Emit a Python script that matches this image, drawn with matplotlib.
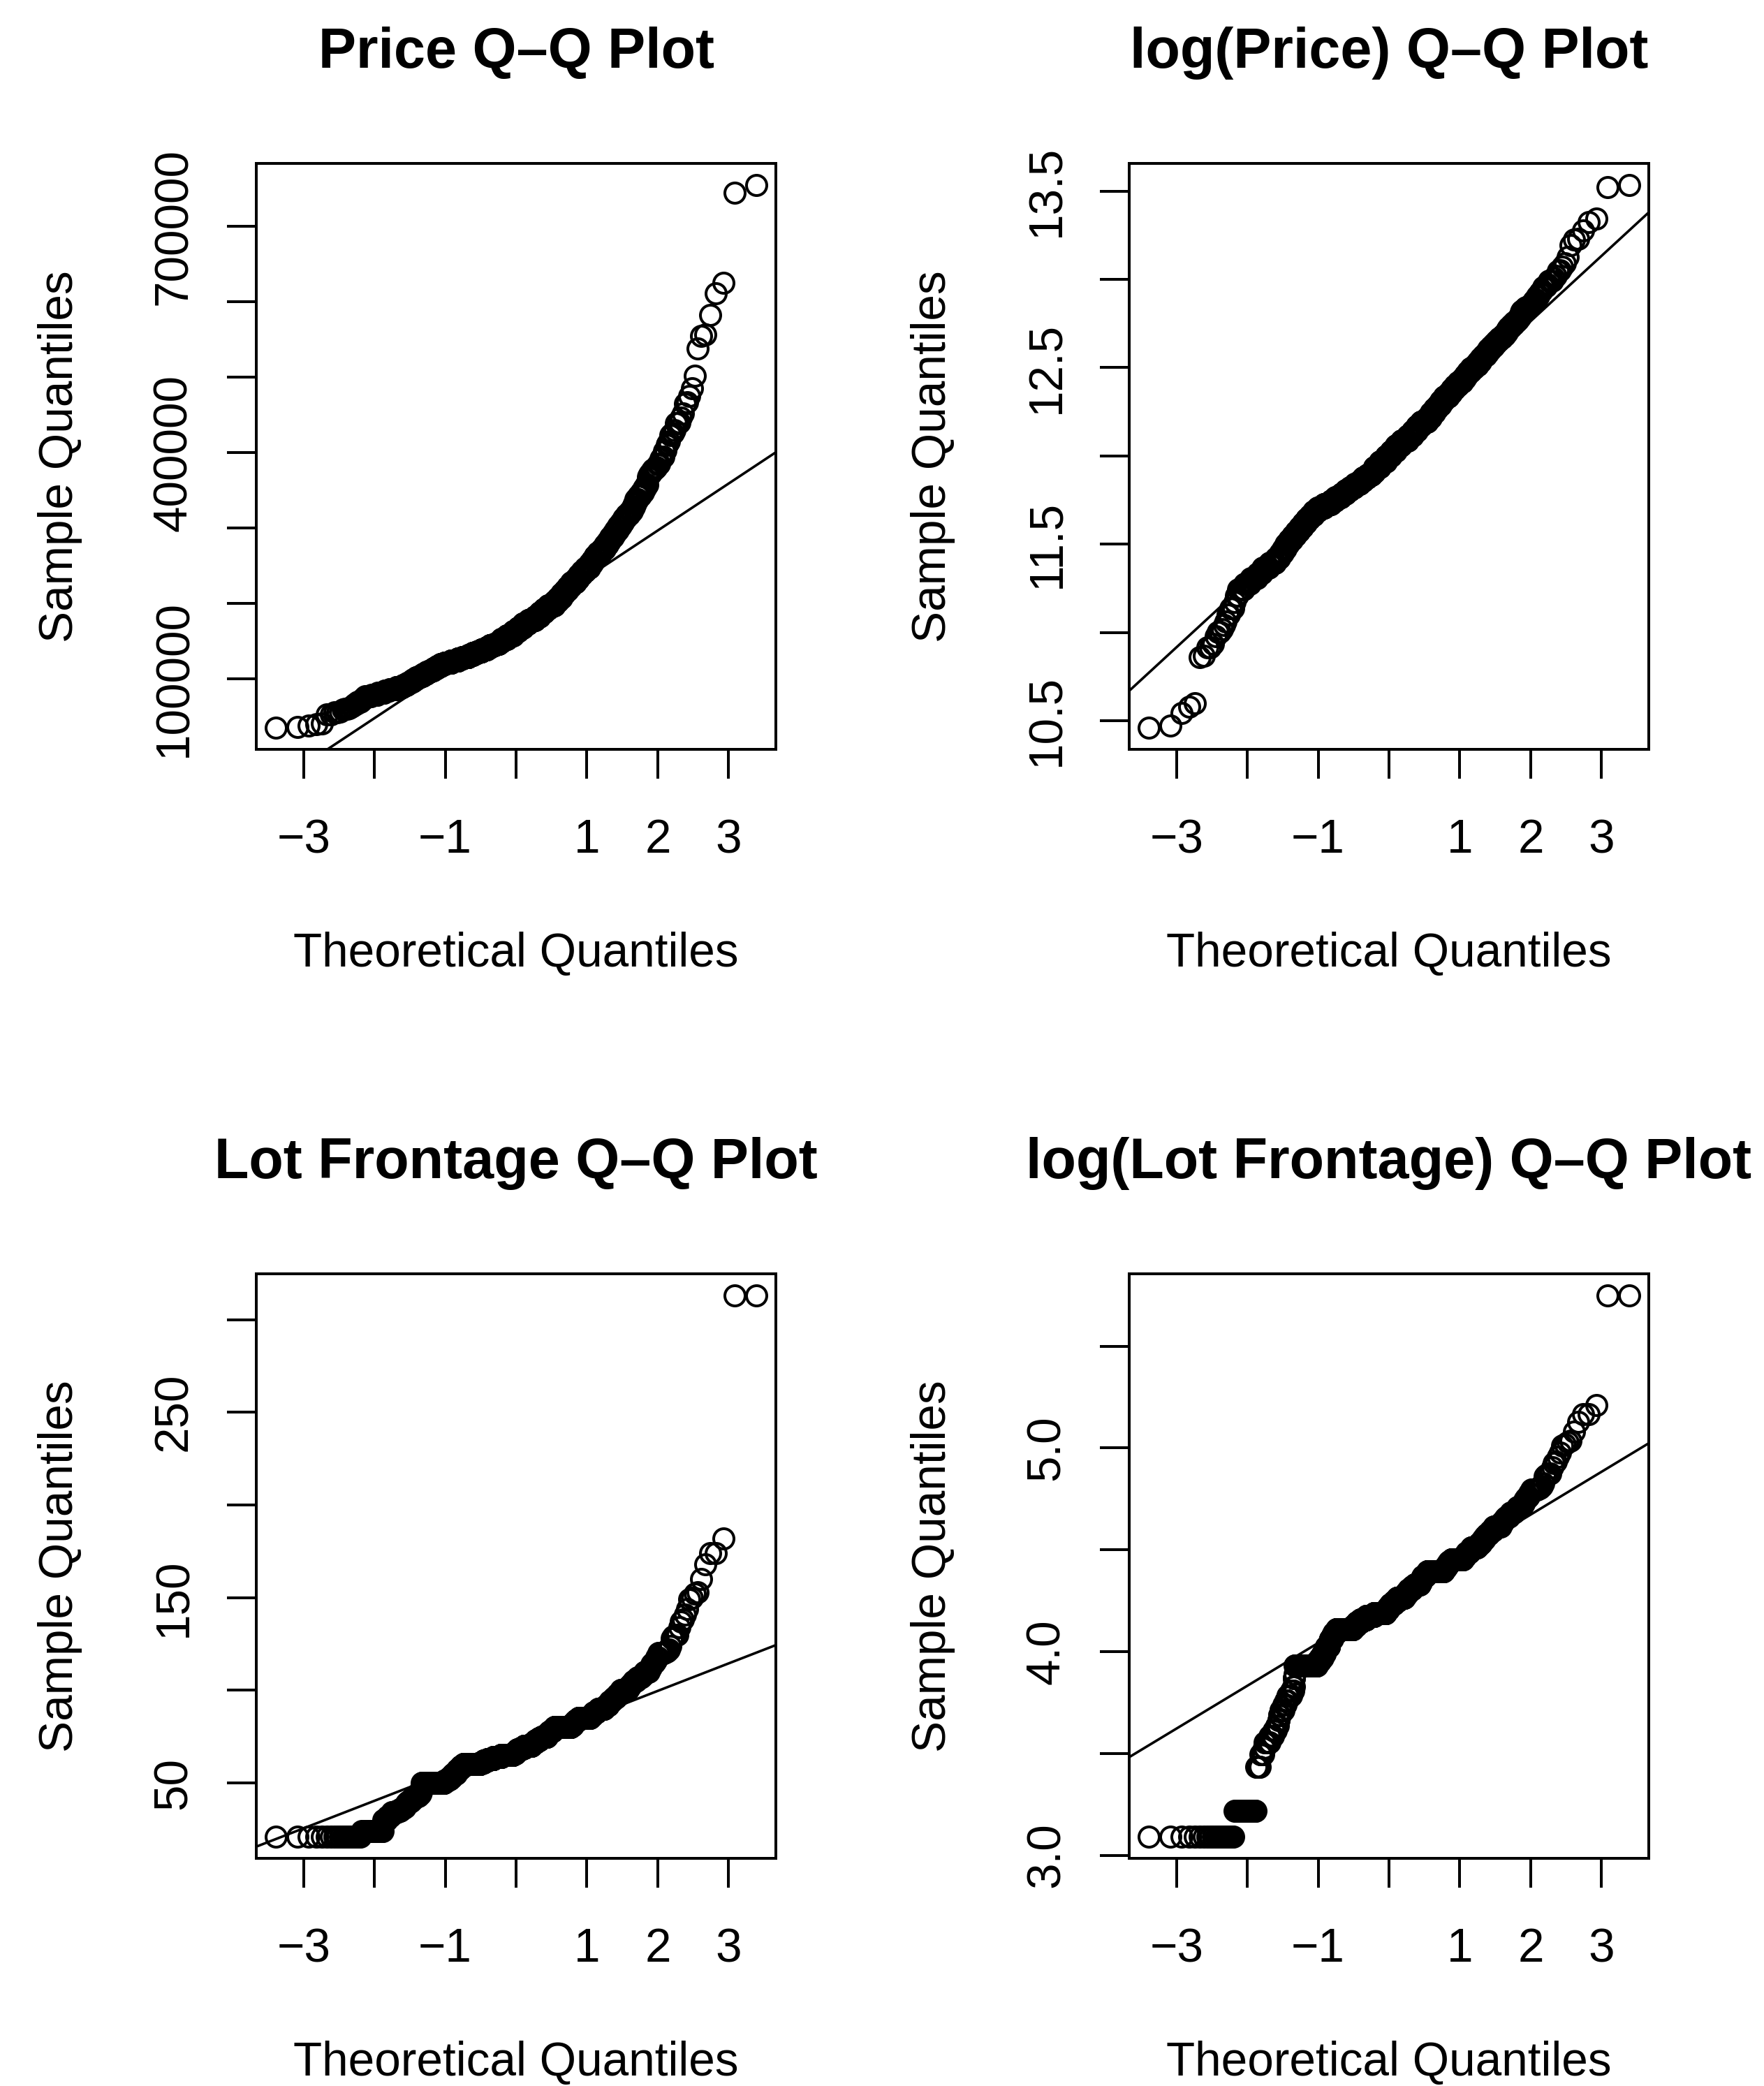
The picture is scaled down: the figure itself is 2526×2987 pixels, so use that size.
import numpy as np
import matplotlib
matplotlib.use("Agg")
import matplotlib.pyplot as plt
from matplotlib import transforms
from statistics import NormalDist

plt.rcParams['font.family'] = ['Liberation Sans', 'DejaVu Sans']

# ---------------- data ----------------
# Sale price: frequency table (value -> number of houses); exact values in the
# tails, 2500 / 5000 wide price classes (class centres) in the dense middle.
price_value = [34900, 35311, 37900, 39300, 40000, 52000, 52500, 55000, 55993, 58500,
               60000, 61000, 62383,
               63750, 66250, 68750, 71250, 73750, 76250, 78750, 81250, 83750, 86250,
               88750, 91250, 93750, 96250, 98750, 101250, 103750, 106250, 108750,
               111250, 113750, 116250, 118750, 121250, 123750, 126250, 128750, 131250,
               133750, 136250, 138750, 141250, 143750, 146250, 148750,
               152500, 157500, 162500, 167500, 172500, 177500, 182500, 187500, 192500,
               197500, 202500, 207500, 212500, 217500, 222500, 227500, 232500, 237500,
               242500, 247500, 252500, 257500, 262500, 267500, 272500, 277500, 282500,
               287500, 292500, 297500, 302500, 307500, 312500, 317500, 322500, 327500,
               332500, 337500, 342500, 347500, 352500, 357500,
               367294, 369900, 370878, 372402, 372500, 375000, 376162, 377426, 377500,
               378500, 380000, 381000, 383970, 384500, 385000, 392000, 392500, 394432,
               394617, 402000, 402861, 410000, 412500, 415298, 423000, 424870, 426000,
               430000, 438780, 439000, 440000, 446261, 451950, 465000, 466500, 475000,
               485000, 501837, 538000, 555000, 556581, 582933, 611657, 625000, 745000,
               755000]
price_count = [1, 1, 1, 1, 1, 1, 1, 2, 1, 1,
               2, 1, 1,
               1, 2, 3, 1, 2, 6, 7, 9, 8, 12,
               14, 10, 8, 8, 9, 11, 11, 13, 13,
               14, 15, 17, 20, 33, 39, 27, 37, 30,
               30, 32, 38, 25, 35, 33, 22,
               45, 50, 40, 40, 45, 52, 38, 33, 31,
               46, 25, 25, 20, 20, 20, 28, 16, 18,
               19, 20, 12, 12, 14, 15, 13, 10, 8,
               10, 7, 8, 8, 7, 7, 8, 6, 4,
               3, 5, 5, 4, 4, 3,
               1, 1, 1, 1, 1, 1, 1, 1, 1,
               1, 1, 1, 1, 1, 1, 1, 1, 1,
               1, 1, 1, 1, 1, 1, 1, 1, 1,
               1, 1, 1, 1, 1, 1, 1, 1, 1,
               1, 1, 1, 1, 1, 1, 1, 1, 1,
               1]
# lower / upper quartile of price (where the reference line is anchored)
price_q1 = 129975
price_q3 = 214000

# Lot frontage: distinct values and how many times each occurs
lot_value = [21, 24, 30, 32, 33, 34, 35, 36, 37, 38, 39, 40, 41, 42, 43, 44, 45, 47, 48,
             50, 51, 52, 53, 54, 55, 56, 57, 58, 59, 60, 61, 62, 63, 64, 65, 66, 67, 68,
             69, 70, 71, 72, 73, 74, 75, 76, 77, 78, 79, 80, 81, 82, 83, 84, 85, 86, 87,
             88, 89, 90, 91, 92, 93, 94, 95, 96, 97, 98, 99, 100, 101, 102, 103, 104,
             105, 106, 107, 108, 109, 110, 111, 112, 114, 115, 116, 118, 120, 121, 122,
             124, 128, 129, 130, 134, 137, 138, 141, 144, 149, 150, 152, 153, 160, 168,
             174, 182, 313]
lot_count = [21, 23, 6, 6, 2, 9, 8, 6, 5, 2, 3, 9, 6, 5, 11, 7, 2, 2, 1,
             92, 14, 14, 12, 6, 18, 6, 13, 8, 18, 112, 25, 30, 45, 61, 96, 20, 18, 27,
             28, 58, 15, 20, 25, 20, 40, 12, 10, 22, 13, 108, 10, 10, 10, 14, 60, 10, 6,
             14, 6, 24, 7, 9, 4, 7, 6, 8, 3, 8, 2, 18, 2, 4, 3, 3,
             7, 2, 7, 3, 2, 7, 1, 2, 2, 2, 2, 2, 7, 2, 2,
             1, 1, 2, 2, 1, 1, 1, 1, 1, 1, 1, 1, 1, 1, 1,
             2, 1, 2]

titles = ["Price Q\u2013Q Plot", "log(Price) Q\u2013Q Plot",
          "Lot Frontage Q\u2013Q Plot", "log(Lot Frontage) Q\u2013Q Plot"]
x_ticks = [-3, -2, -1, 0, 1, 2, 3]
x_tick_labels = ["\u22123", "", "\u22121", "", "1", "2", "3"]
y_ticks = [[100000, 200000, 300000, 400000, 500000, 600000, 700000],
           [10.5, 11.0, 11.5, 12.0, 12.5, 13.0, 13.5],
           [50, 100, 150, 200, 250, 300],
           [3.0, 3.5, 4.0, 4.5, 5.0, 5.5]]
y_tick_labels = [["100000", "", "", "400000", "", "", "700000"],
                 ["10.5", "", "11.5", "", "12.5", "", "13.5"],
                 ["50", "", "150", "", "250", ""],
                 ["3.0", "", "4.0", "", "5.0", ""]]

# ---------------- computations (as qqnorm / qqline do) ----------------
nd = NormalDist()


def theoretical(n):
    return np.array([nd.inv_cdf((i - 0.5) / n) for i in range(1, n + 1)])


price_sample = np.repeat(np.array(price_value, dtype=float), price_count)
price_theo = theoretical(len(price_sample))

lot_sample = np.repeat(np.array(lot_value, dtype=float), lot_count)
lot_theo = theoretical(len(lot_sample))
lot_q1, lot_q3 = np.quantile(lot_sample, [0.25, 0.75])
llot = np.log1p(lot_sample)
llot_q1, llot_q3 = np.quantile(llot, [0.25, 0.75])

panels = [
    (price_theo, price_sample, price_q1, price_q3),
    (price_theo, np.log(price_sample), np.log(price_q1), np.log(price_q3)),
    (lot_theo, lot_sample, lot_q1, lot_q3),
    (lot_theo, llot, llot_q1, llot_q3),
]

# ---------------- figure ----------------
W, H = 2526, 2987
DPI = 72
fig = plt.figure(figsize=(W / DPI, H / DPI), dpi=DPI)

boxes = [(367, 234, 1111, 1073), (1617, 234, 2361, 1073),
         (367, 1824, 1111, 2661), (1617, 1824, 2361, 2661)]

FS_LAB = 67.5
FS_TITLE = 81
LW = 4
z25, z75 = nd.inv_cdf(0.25), nd.inv_cdf(0.75)

for k, (box, (tx, sy, q1, q3)) in enumerate(zip(boxes, panels)):
    l, t, r, b = box
    ax = fig.add_axes([l / W, 1 - b / H, (r - l) / W, (b - t) / H])
    ax.plot(tx, sy, ls='none', marker='o', ms=29, mfc='none', mec='black', mew=4,
            clip_on=True)
    slope = (q3 - q1) / (z75 - z25)
    intercept = q1 - slope * z25
    ax.axline((0.0, intercept), slope=slope, color='black', lw=3.6)

    xr = tx.max() - tx.min()
    ax.set_xlim(tx.min() - 0.04 * xr, tx.max() + 0.04 * xr)
    yr = sy.max() - sy.min()
    ax.set_ylim(sy.min() - 0.04 * yr, sy.max() + 0.04 * yr)

    for s in ax.spines.values():
        s.set_linewidth(LW)
    ax.set_xticks(x_ticks)
    ax.set_yticks(y_ticks[k])
    ax.tick_params(direction='out', length=42, width=LW, labelbottom=False,
                   labelleft=False)

    # x tick labels
    tx_tr = transforms.offset_copy(
        transforms.blended_transform_factory(ax.transData, ax.transAxes),
        fig=fig, y=-148, units='dots')
    for v, s in zip(x_ticks, x_tick_labels):
        if s:
            ax.text(v, 0, s, transform=tx_tr, ha='center', va='baseline',
                    fontsize=FS_LAB)
    # y tick labels
    ty_tr = transforms.offset_copy(
        transforms.blended_transform_factory(ax.transAxes, ax.transData),
        fig=fig, x=-100, units='dots')
    for v, s in zip(y_ticks[k], y_tick_labels[k]):
        if s:
            ax.text(0, v, s, transform=ty_tr, rotation=90, rotation_mode='anchor',
                    ha='center', va='baseline', fontsize=FS_LAB)
    # axis titles
    ax.text(0.5, 0, "Theoretical Quantiles",
            transform=transforms.offset_copy(ax.transAxes, fig=fig, y=-311, units='dots'),
            ha='center', va='baseline', fontsize=FS_LAB)
    ax.text(0, 0.5, "Sample Quantiles",
            transform=transforms.offset_copy(ax.transAxes, fig=fig, x=-263, units='dots'),
            rotation=90, rotation_mode='anchor', ha='center', va='baseline',
            fontsize=FS_LAB)
    # main title
    ax.text(0.5, 1, titles[k],
            transform=transforms.offset_copy(ax.transAxes, fig=fig, y=137, units='dots'),
            ha='center', va='baseline', fontsize=FS_TITLE, fontweight='bold')

fig.savefig("out.png", dpi=DPI, facecolor='white')
